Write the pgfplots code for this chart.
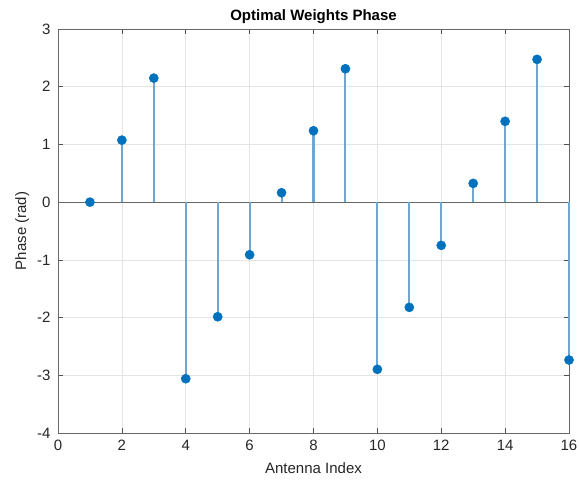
\documentclass[border=0pt]{standalone}
\usepackage{pgfplots}
\pgfplotsset{compat=1.18}
\usepackage{fontspec}
\setmainfont{Liberation Sans}
\definecolor{mblue}{RGB}{0,114,189}
\definecolor{stemblue}{RGB}{105,168,215}
\definecolor{axgray}{RGB}{38,38,38}
\definecolor{gridgray}{RGB}{228,228,228}

\pgfplotstableread{
k  phase
1   0.000
2   1.074
3   2.149
4  -3.060
5  -1.986
6  -0.912
7   0.163
8   1.237
9   2.311
10 -2.897
11 -1.823
12 -0.749
13  0.325
14  1.400
15  2.474
16 -2.735
}\phasedata

\begin{document}
\begin{tikzpicture}
\begin{axis}[
  scale only axis,
  width=511pt, height=404pt,
  xmin=0, xmax=16, ymin=-4, ymax=3,
  xtick={0,2,...,16}, ytick={-4,-3,...,3},
  tick align=inside,
  major tick length=5pt,
  xtick pos=both, ytick pos=both,
  grid=major,
  major grid style={gridgray, line width=0.6pt},
  axis line style={axgray!70, line width=0.7pt},
  major tick style={axgray!80, line width=0.6pt},
  tick label style={font=\fontsize{15}{17}\selectfont, text=axgray},
  xticklabel style={yshift=-4pt},
  yticklabel style={xshift=-4pt},
  /pgf/number format/assume math mode=true,
  xlabel={Antenna Index},
  ylabel={Phase (rad)},
  label style={font=\fontsize{15}{17}\selectfont, text=axgray},
  xlabel style={yshift=-5pt},
  ylabel style={yshift=1pt},
  title={\textbf{Optimal Weights Phase}},
  title style={font=\fontsize{15}{17}\selectfont, text=black, yshift=-4pt},
  clip=false,
]
\draw[gray!80!black, line width=0.9pt] (axis cs:0,0) -- (axis cs:16,0);
% stems, from the zero line to each value
\addplot[ycomb, color=stemblue, line width=2.1pt, no markers, forget plot]
  table[x=k, y=phase] {\phasedata};
% stem heads
\addplot[only marks, mark=*, mark size=4.6pt, color=mblue,
  mark options={solid, fill=mblue, draw=mblue}] table[x=k, y=phase] {\phasedata};
\end{axis}
\pgfresetboundingbox
\path (current axis.south west) ++(-58pt,-50pt) coordinate (bl);
\path (current axis.north east) ++(10pt,29pt) coordinate (tr);
\path (bl) rectangle (tr);
\end{tikzpicture}
\end{document}
